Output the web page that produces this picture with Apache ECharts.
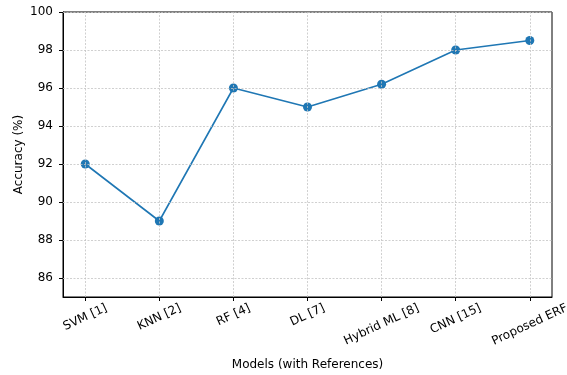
<!DOCTYPE html>
<html>
<head>
<meta charset="utf-8">
<script src="https://cdn.jsdelivr.net/npm/echarts@6/dist/echarts.min.js"></script>
<style>
  html, body { margin: 0; padding: 0; background: #fff; }
  #chart { width: 567px; height: 375px; }
</style>
</head>
<body>
<div id="chart"></div>
<script>
// Model names along the x axis and their reported accuracy
const models = ['SVM [1]', 'KNN [2]', 'RF [4]', 'DL [7]', 'Hybrid ML [8]', 'CNN [15]', 'Proposed ERF'];
const accuracy = [92, 89, 96, 95, 96.2, 98, 98.5];
const yTicks = [86, 88, 90, 92, 94, 96, 98, 100];

const xIdx = models.map((_, i) => i);
const points = accuracy.map((v, i) => [i, v]);

const font = 'DejaVu Sans, sans-serif';
const fontSize = 12;
const gridLine = { color: '#c4c4c4', width: 0.8, type: [2, 1.5] };

// Rotated tick labels hang from a common top edge: shift each label down by
// half of the extra height its rotated box has over the shortest one.
const ROT = 25 * Math.PI / 180;
const ctx = document.createElement('canvas').getContext('2d');
ctx.font = fontSize + 'px DejaVu Sans';
const widths = models.map(m => ctx.measureText(m).width);
const minW = Math.min(...widths);
const rich = {};
models.forEach((m, i) => {
  const d = (widths[i] - minW) * Math.sin(ROT) / 2;
  rich['l' + i] = {
    fontFamily: font, fontSize: fontSize, color: '#000',
    padding: [2 * d * Math.cos(ROT), 2 * d * Math.sin(ROT), 0, 0]
  };
});
const baseHalf = (minW * Math.sin(ROT) + fontSize * Math.cos(ROT)) / 2;

const chart = echarts.init(document.getElementById('chart'), null, { renderer: 'canvas' });
chart.setOption({
  animation: false,
  backgroundColor: '#fff',
  grid: {
    left: 63, right: 15, top: 12, bottom: 78,
    outerBoundsMode: 'none', containLabel: false,
    show: true, borderColor: '#000', borderWidth: 1, backgroundColor: 'transparent'
  },
  xAxis: {
    type: 'value', min: -0.3, max: 6.3,
    name: 'Models (with References)', nameLocation: 'middle', nameGap: 62,
    nameTextStyle: { fontFamily: font, fontSize: fontSize, color: '#000' },
    axisLine: { show: true, onZero: false, lineStyle: { color: '#000', width: 1 } },
    axisTick: { show: true, customValues: xIdx, length: 4, lineStyle: { color: '#000' } },
    axisLabel: {
      customValues: xIdx, rotate: 25, align: 'center', verticalAlign: 'middle',
      margin: 5 + baseHalf,
      fontFamily: font, fontSize: fontSize, color: '#000',
      rich: rich,
      formatter: v => {
        const i = Math.round(v);
        return '{l' + i + '|' + models[i] + '}';
      }
    },
    splitLine: { show: false }
  },
  yAxis: {
    type: 'value', min: 85, max: 100,
    name: 'Accuracy (%)', nameLocation: 'middle', nameGap: 38, nameMoveOverlap: false,
    nameTextStyle: { fontFamily: font, fontSize: fontSize, color: '#000' },
    axisLine: { show: true, onZero: false, lineStyle: { color: '#000', width: 1 } },
    axisTick: { show: true, customValues: yTicks, length: 4, lineStyle: { color: '#000' } },
    axisLabel: { customValues: yTicks, margin: 10, fontFamily: font, fontSize: fontSize, color: '#000' },
    splitLine: { show: false }
  },
  series: [
    {
      // dashed reference grid behind the data
      type: 'line', data: [], z: 1, silent: true,
      markLine: {
        silent: true, symbol: 'none', animation: false,
        label: { show: false },
        lineStyle: gridLine,
        data: [
          ...yTicks.map(v => ({ yAxis: v })),
          ...xIdx.map(v => ({ xAxis: v }))
        ]
      }
    },
    {
      type: 'line', data: points, z: 3,
      symbol: 'circle', symbolSize: 9,
      lineStyle: { color: '#1f77b4', width: 1.6 },
      itemStyle: { color: '#1f77b4', borderWidth: 0 }
    }
  ]
});
</script>
</body>
</html>
